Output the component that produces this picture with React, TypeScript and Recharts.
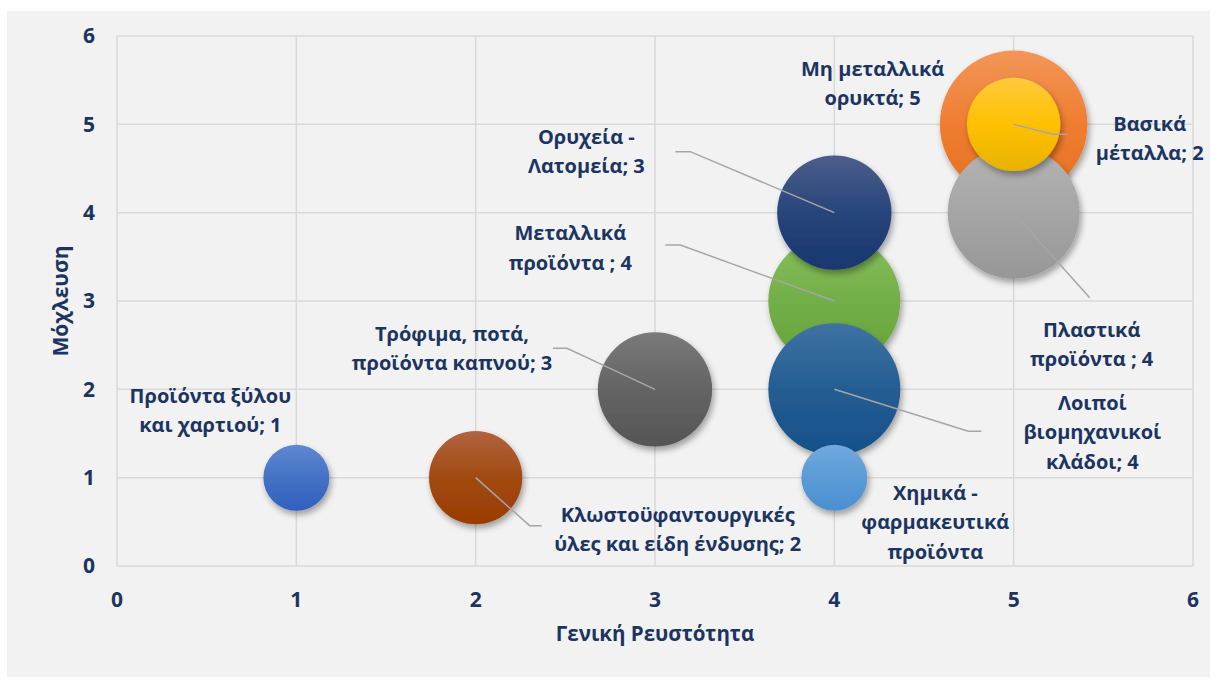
import { ScatterChart, Scatter, XAxis, YAxis, ZAxis, CartesianGrid, Label } from 'recharts';

// sectors, liquidity (x), leverage (y) and bubble weight (z)
const sectors = [
  'Προϊόντα ξύλου και χαρτιού',
  'Κλωστοϋφαντουργικές ύλες και είδη ένδυσης',
  'Τρόφιμα, ποτά, προϊόντα καπνού',
  'Μεταλλικά προϊόντα',
  'Ορυχεία - Λατομεία',
  'Λοιποί βιομηχανικοί κλάδοι',
  'Χημικά - φαρμακευτικά προϊόντα',
  'Μη μεταλλικά ορυκτά',
  'Πλαστικά προϊόντα',
  'Βασικά μέταλλα',
];
const liquidity = [1, 2, 3, 4, 4, 4, 4, 5, 5, 5];
const leverage = [1, 1, 2, 3, 4, 2, 1, 5, 4, 5];
const weight = [1, 2, 3, 4, 3, 4, 1, 5, 4, 2];

// data label text, line by line
const labelLines = [
  ['Προϊόντα ξύλου', 'και χαρτιού; 1'],
  ['Κλωστοϋφαντουργικές', 'ύλες και είδη ένδυσης; 2'],
  ['Τρόφιμα, ποτά,', 'προϊόντα καπνού; 3'],
  ['Μεταλλικά', 'προϊόντα ; 4'],
  ['Ορυχεία -', 'Λατομεία; 3'],
  ['Λοιποί', 'βιομηχανικοί', 'κλάδοι; 4'],
  ['Χημικά -', 'φαρμακευτικά', 'προϊόντα'],
  ['Μη μεταλλικά', 'ορυκτά; 5'],
  ['Πλαστικά', 'προϊόντα ; 4'],
  ['Βασικά', 'μέταλλα; 2'],
];

const xTicks = [0, 1, 2, 3, 4, 5, 6];
const yTicks = [0, 1, 2, 3, 4, 5, 6];

// gradient stops per bubble: top, middle, bottom
const FILLS = [
  ['#6088d2', '#4472c4', '#3060bd'],
  ['#b0643e', '#a24a12', '#983c00'],
  ['#7a7a7a', '#646464', '#555555'],
  ['#88c05e', '#72ae48', '#66a43a'],
  ['#4c5e8c', '#27457a', '#1a366e'],
  ['#3f72a3', '#245d91', '#15508a'],
  ['#70a9de', '#5b9bd5', '#4a8fd2'],
  ['#f39658', '#f07d30', '#e47020'],
  ['#b4b4b4', '#a5a5a5', '#979797'],
  ['#ffca3e', '#ffc000', '#e8b200'],
];

// label placement relative to bubble centre, with leader line points
const LABEL_LAYOUT: { dx: number; dy: number; leader?: number[][] }[] = [
  { dx: -86, dy: -82 },
  { dx: 202, dy: 37, leader: [[54, 48], [66, 48]] },
  { dx: -203, dy: -56, leader: [[-88, -41], [-102, -41]] },
  { dx: -264, dy: -68, leader: [[-154, -56], [-169, -56]] },
  { dx: -248, dy: -76, leader: [[-144, -61], [-159, -61]] },
  { dx: 258, dy: 13, leader: [[134, 42], [147, 42]] },
  { dx: 101, dy: 15 },
  { dx: -141, dy: -56 },
  { dx: 78, dy: 117, leader: [[76, 85]] },
  { dx: 136, dy: -1, leader: [[39, 10], [54, 10]] },
];

const TEXT = '#1c3461';
const FONT = '"Open Sans", "Noto Sans", sans-serif';
const UNIT_AREA = Math.PI * 33 * 33;
const LINE_H = 29.5;

const rows = sectors.map((name, i) => ({
  name,
  x: liquidity[i],
  y: leverage[i],
  z: weight[i],
  idx: i,
}));

const Bubble = (props: any) => {
  const { cx, cy, size, payload } = props;
  const r = Math.sqrt(size / Math.PI);
  return (
    <circle
      cx={cx}
      cy={cy}
      r={r}
      fill={`url(#bub-${payload.idx})`}
      filter="url(#bubShadow)"
    />
  );
};

const BubbleLabel = (props: any) => {
  const { cx, cy, payload } = props;
  const lay = LABEL_LAYOUT[payload.idx];
  const lines = labelLines[payload.idx];
  return (
    <g>
      {lay.leader && (
        <polyline
          points={[[0, 0], ...lay.leader].map(([a, b]) => `${cx + a},${cy + b}`).join(' ')}
          fill="none"
          stroke="#a6a6a6"
          strokeWidth={1.5}
        />
      )}
      <text
        textAnchor="middle"
        fill={TEXT}
        fontSize={20}
        fontWeight={700}
        fontFamily={FONT}
      >
        {lines.map((l, k) => (
          <tspan key={k} x={cx + lay.dx} y={cy + lay.dy + k * LINE_H} dy="0.36em">
            {l}
          </tspan>
        ))}
      </text>
    </g>
  );
};

const YTitle = (props: any) => {
  const { viewBox } = props;
  const x = viewBox.x + 3;
  const y = viewBox.y + viewBox.height / 2;
  return (
    <text
      x={x}
      y={y}
      transform={`rotate(-90 ${x} ${y})`}
      textAnchor="middle"
      dominantBaseline="central"
      fill={TEXT}
      fontSize={21}
      fontWeight={700}
      fontFamily={FONT}
    >
      Μόχλευση
    </text>
  );
};

const tickStyle = { fill: TEXT, fontSize: 21, fontWeight: 700, fontFamily: FONT };

const App = () => {
  return (
    <div style={{ position: 'absolute', left: 0, top: 0, width: 1217, height: 683, background: '#fff' }}>
      <div style={{ position: 'absolute', left: 7, top: 11, width: 1203, height: 666, background: '#f2f2f2' }} />
      <div style={{ position: 'absolute', left: 0, top: 0 }}>
        <ScatterChart width={1217} height={683} margin={{ top: 36, right: 24, bottom: 87, left: 57 }}>
          <defs>
            {FILLS.map((f, i) => (
              <linearGradient key={i} id={`bub-${i}`} x1="0" y1="0" x2="0" y2="1">
                <stop offset="0%" stopColor={f[0]} />
                <stop offset="50%" stopColor={f[1]} />
                <stop offset="100%" stopColor={f[2]} />
              </linearGradient>
            ))}
            <filter id="bubShadow" x="-30%" y="-30%" width="160%" height="160%">
              <feDropShadow dx="2" dy="4" stdDeviation="3" floodColor="#000" floodOpacity="0.35" />
            </filter>
          </defs>
          <CartesianGrid stroke="#d9d9d9" strokeWidth={1.5} />
          <XAxis
            type="number"
            dataKey="x"
            domain={[0, 6]}
            ticks={xTicks}
            axisLine={false}
            tickLine={false}
            tickMargin={20}
            height={30}
            tick={tickStyle}
          >
            <Label
              value="Γενική Ρευστότητα"
              position="bottom"
              offset={30}
              fill={TEXT}
              fontSize={20.5}
              fontWeight={700}
              fontFamily={FONT}
            />
          </XAxis>
          <YAxis
            type="number"
            dataKey="y"
            domain={[0, 6]}
            ticks={yTicks}
            axisLine={false}
            tickLine={false}
            tickMargin={16}
            width={60}
            tick={tickStyle}
          >
            <Label content={YTitle} />
          </YAxis>
          <ZAxis type="number" dataKey="z" domain={[0, 5]} range={[0, 5 * UNIT_AREA]} />
          {rows.map((r) => (
            <Scatter
              key={r.idx}
              data={[r]}
              shape={Bubble}
              isAnimationActive={false}
              legendType="none"
            />
          ))}
          <Scatter data={rows} shape={BubbleLabel} isAnimationActive={false} legendType="none" />
        </ScatterChart>
      </div>
    </div>
  );
};

export default App;
